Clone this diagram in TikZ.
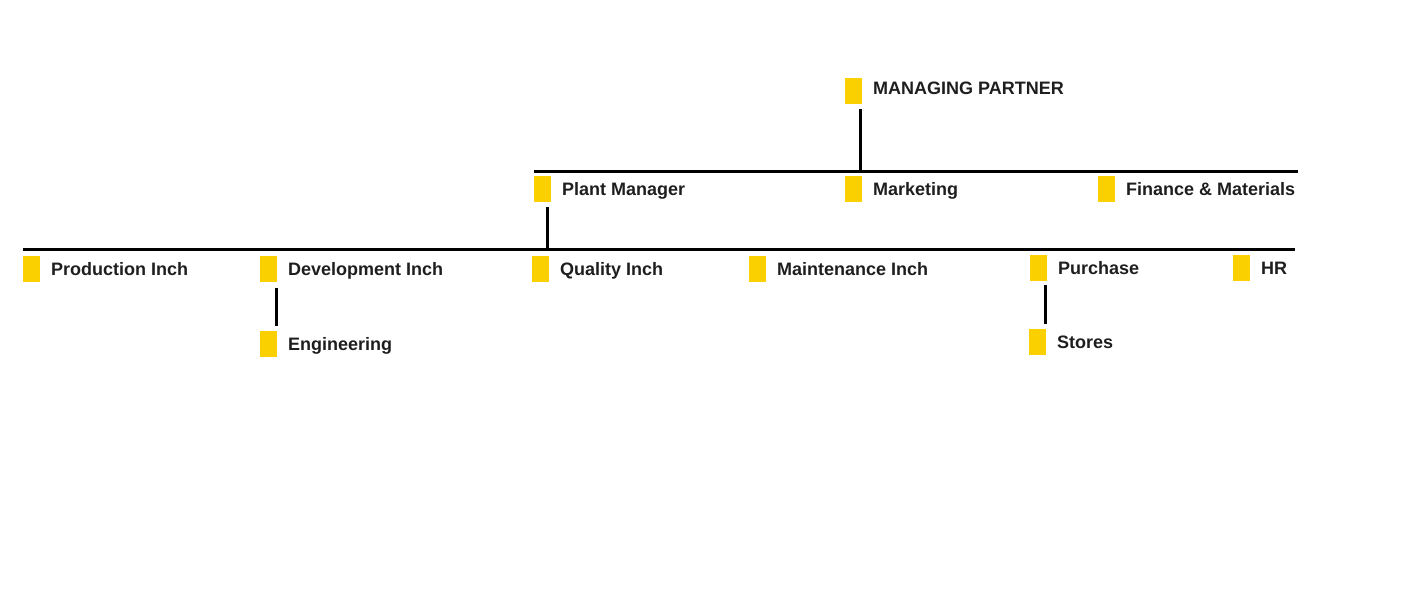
\documentclass[tikz,border=0pt]{standalone}
\usepackage{fontspec}
\setmainfont{Liberation Sans}
\usetikzlibrary{positioning,calc}
\definecolor{tagyellow}{HTML}{FAD000}
\definecolor{inkgray}{HTML}{1E1E1E}
\tikzset{
  tag/.style={fill=tagyellow, minimum width=12.75pt, minimum height=19.5pt, inner sep=0pt},
  post/.style={anchor=west, inner sep=0pt, text height=9.7pt, text depth=0pt, text=inkgray,
    font=\fontsize{13.5}{16}\selectfont\bfseries},
  link/.style={line width=2.25pt},
}
\begin{document}
\begin{tikzpicture}[x=0.75pt,y=-0.75pt]
        \useasboundingbox (0,0) rectangle (1417,600);
        % top level
        \node[tag] (mpsq) at (853.5,91) {};
        \node[post, right=8pt of mpsq, yshift=2.6pt] (mp) {MANAGING PARTNER};
        % second level
        \node[tag] (pmsq) at (542.5,189) {};
        \node[post, right=8pt of pmsq] (pm) {Plant Manager};
        \node[tag] (mksq) at (853.5,189) {};
        \node[post, right=8pt of mksq] (mk) {Marketing};
        \node[tag] (finsq) at (1106.5,189) {};
        \node[post, right=8pt of finsq] (fin) {Finance \& Materials};
        % third level
        \node[tag] (prodsq) at (31.5,269) {};
        \node[post, right=8pt of prodsq] (prod) {Production Inch};
        \node[tag] (devsq) at (268.5,269) {};
        \node[post, right=8pt of devsq] (dev) {Development Inch};
        \node[tag] (qualsq) at (540.5,269) {};
        \node[post, right=8pt of qualsq] (qual) {Quality Inch};
        \node[tag] (maintsq) at (757.5,269) {};
        \node[post, right=8pt of maintsq] (maint) {Maintenance Inch};
        \node[tag] (pursq) at (1038.5,268) {};
        \node[post, right=8pt of pursq] (pur) {Purchase};
        \node[tag] (hrsq) at (1241.5,268) {};
        \node[post, right=8pt of hrsq] (hr) {HR};
        % fourth level
        \node[tag] (engsq) at (268.5,344) {};
        \node[post, right=8pt of engsq] (eng) {Engineering};
        \node[tag] (stosq) at (1037.5,342) {};
        \node[post, right=8pt of stosq] (sto) {Stores};
        % bars
        \coordinate (topw) at (534,171);
        \coordinate (tope) at (1298,171);
        \coordinate (midw) at (23,249);
        \coordinate (mide) at (1295,249);
        \draw[link] (topw) -- (tope);
        \draw[link] (midw) -- (mide);
        % stems
        \coordinate (mpfoot) at ($(mpsq.south east)+(-2,5)$);
        \draw[link] (mpfoot) -- (mpfoot |- topw);
        \coordinate (pmfoot) at ($(pmsq.south east)+(-4,5)$);
        \draw[link] (pmfoot) -- (pmfoot |- midw);
        \coordinate (devfoot) at ($(devsq.south east)+(-1,6)$);
        \draw[link] (devfoot) -- ($(devfoot |- engsq.north)+(0,-5)$);
        \coordinate (purfoot) at ($(pursq.south east)+(-2,4)$);
        \draw[link] (purfoot) -- ($(purfoot |- stosq.north)+(0,-5)$);
\end{tikzpicture}
\end{document}
